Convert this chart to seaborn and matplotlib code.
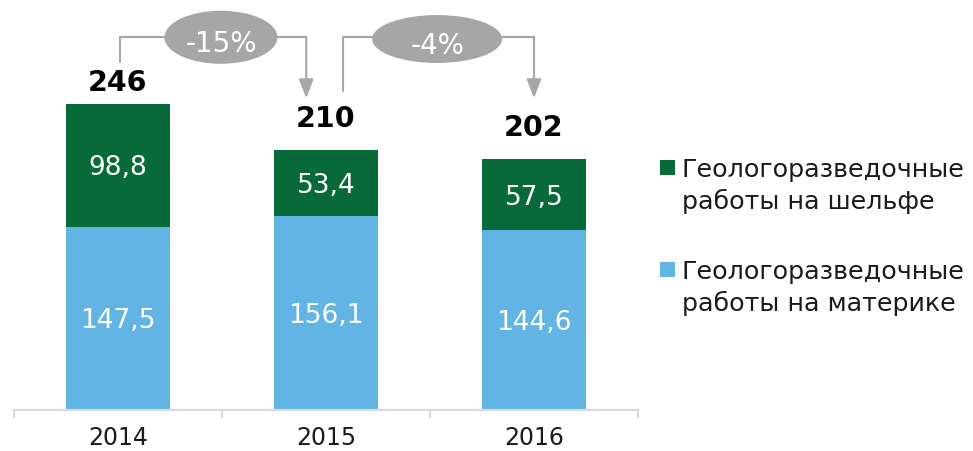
import matplotlib
matplotlib.use('Agg')
import matplotlib.pyplot as plt
from matplotlib.patches import Ellipse, Rectangle
import seaborn as sns
import pandas as pd

# Data
years = ['2014', '2015', '2016']
mainland = [147.5, 156.1, 144.6]
shelf = [98.8, 53.4, 57.5]
changes = ['-15%', '-4%']
legend_labels = [['Геологоразведочные', 'работы на шельфе'],
                 ['Геологоразведочные', 'работы на материке']]

# Colors
green = '#076A38'
blue = '#62B4E4'
grey = '#A6A6A6'
axis_grey = '#D9D9D9'

sns.set_style('white')
plt.rcParams['font.family'] = ['DejaVu Sans']

df = pd.DataFrame({'year': years, 'mainland': mainland, 'shelf': shelf})
df['total'] = df['mainland'] + df['shelf']

fig = plt.figure(figsize=(9.73, 4.51), dpi=100)
ax = fig.add_axes([14 / 973, 41 / 451, 624 / 973, 410 / 451])

# Stacked bars: total in green, mainland drawn on top in blue
sns.barplot(data=df, x='year', y='total', color=green, width=0.5,
            saturation=1, linewidth=0, edgecolor='none', ax=ax)
sns.barplot(data=df, x='year', y='mainland', color=blue, width=0.5,
            saturation=1, linewidth=0, edgecolor='none', ax=ax)

ax.set_xlim(-0.5, 2.5)
ax.set_ylim(0, 330)
ax.set_xlabel('')
ax.set_ylabel('')
ax.set_yticks([])
for s in ['top', 'right', 'left']:
    ax.spines[s].set_visible(False)
ax.spines['bottom'].set_color(axis_grey)
ax.spines['bottom'].set_linewidth(1.5)
ax.set_xticks(range(len(years)))
ax.set_xticklabels(years, fontsize=17, color='#1a1a1a')
ax.tick_params(axis='x', which='major', length=0, pad=11.5)
ax.set_xticks([-0.5, 0.5, 1.5, 2.5], minor=True)
ax.tick_params(axis='x', which='minor', bottom=True, length=6, width=1.5,
               color=axis_grey)

# Segment labels
for i, row in df.iterrows():
    ax.text(i, row['mainland'] / 2, f"{row['mainland']:.1f}".replace('.', ','),
            ha='center', va='center_baseline', color='white', fontsize=19)
    ax.text(i, row['mainland'] + row['shelf'] / 2, f"{row['shelf']:.1f}".replace('.', ','),
            ha='center', va='center_baseline', color='white', fontsize=19)

# Totals above bars
total_offsets = [9, 16.5, 16.5]
for i, row in df.iterrows():
    ax.annotate(f"{round(row['total'])}", (i, row['total']),
                xytext=(0, total_offsets[i]), textcoords='offset points',
                ha='center', va='baseline', fontsize=20.5, fontweight='bold',
                color='black')

# Change connectors with arrows
connectors = [(0.01, 280, 0.905, 251), (1.08, 257, 2.0, 251)]
top_y = 300
for (x0, y0, x1, y1) in connectors:
    ax.plot([x0, x0, x1], [y0, top_y, top_y], color=grey, lw=1.5,
            clip_on=False, zorder=3, solid_joinstyle='miter')
    ax.annotate('', xy=(x1, y1), xytext=(x1, top_y + 0.5), fontsize=10,
                arrowprops=dict(arrowstyle='-|>,head_length=1.15,head_width=0.45',
                                color=grey, lw=1.5, shrinkA=0, shrinkB=0),
                annotation_clip=False, zorder=3)

ellipses = [(0.495, 300, 0.543, 42.7), (1.534, 298.6, 0.625, 38.6)]
for (cx, cy, w, h), label in zip(ellipses, changes):
    e = Ellipse((cx, cy), w, h, facecolor=grey, edgecolor='none',
                clip_on=False, zorder=4)
    ax.add_patch(e)
    ax.text(cx, cy - 3, label, ha='center', va='center_baseline', color='white',
            fontsize=20, zorder=5, clip_on=False)

# Legend drawn manually
legend_colors = [green, blue]
square_tops = [160, 262]
for color, top, lines in zip(legend_colors, square_tops, legend_labels):
    fig.patches.append(Rectangle((660 / 973, 1 - (top + 15) / 451), 15 / 973, 15 / 451,
                                 transform=fig.transFigure, facecolor=color,
                                 edgecolor='none'))
    for k, line in enumerate(lines):
        baseline = top + 17 + k * 32
        fig.text(682 / 973, 1 - baseline / 451, line, ha='left', va='baseline',
                 fontsize=18.3, color='#1a1a1a')

fig.savefig('out.png', dpi=100)
